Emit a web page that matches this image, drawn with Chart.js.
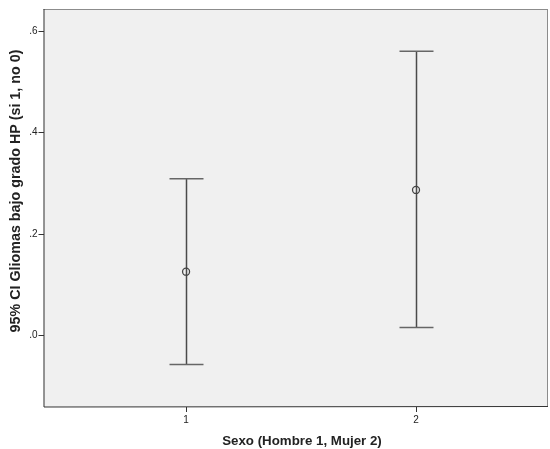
<!DOCTYPE html>
<html>
<head>
<meta charset="utf-8">
<script src="https://cdn.jsdelivr.net/npm/chart.js@4"></script>
<style>
  html, body { margin: 0; padding: 0; background: #fff; }
  #wrap { width: 550px; height: 449px; }
</style>
</head>
<body>
<div id="wrap"><canvas id="chart" width="550" height="449"></canvas></div>
<script>
// group codes on the x axis
const categories = [1, 2];
// means and 95% CI bounds
const means = [0.126, 0.287];
const lower = [-0.057, 0.016];
const upper = [0.309, 0.560];
const yTicks = [0, 0.2, 0.4, 0.6];
const xTicks = [1, 2];
const xTitle = 'Sexo (Hombre 1, Mujer 2)';
const yTitle = '95% CI Gliomas bajo grado HP (si 1, no 0)';

// fill the plot area and draw a frame
const plotBg = {
  id: 'plotBg',
  beforeDraw(chart) {
    const { ctx, chartArea: a } = chart;
    ctx.save();
    ctx.fillStyle = '#f0f0f0';
    ctx.fillRect(a.left, a.top, a.right - a.left, a.bottom - a.top);
    ctx.strokeStyle = '#8c8c8c';
    ctx.lineWidth = 1;
    ctx.beginPath();
    ctx.moveTo(a.left, a.top + 0.5);
    ctx.lineTo(a.right, a.top + 0.5);
    ctx.moveTo(a.right - 0.5, a.top);
    ctx.lineTo(a.right - 0.5, a.bottom);
    ctx.stroke();
    ctx.strokeStyle = '#333';
    ctx.beginPath();
    ctx.moveTo(a.left + 0.5, a.top);
    ctx.lineTo(a.left + 0.5, a.bottom);
    ctx.lineTo(a.right, a.bottom - 0.5);
    ctx.stroke();
    ctx.restore();
  }
};

// whiskers and caps through the scales
const errorBars = {
  id: 'errorBars',
  beforeDatasetsDraw(chart) {
    const { ctx, scales } = chart;
    const capHalf = 17;
    ctx.save();
    ctx.lineWidth = 1.5;
    categories.forEach((c, i) => {
      const x = Math.round(scales.x.getPixelForValue(c)) + 0.5;
      const yLo = scales.y.getPixelForValue(lower[i]);
      const yHi = scales.y.getPixelForValue(upper[i]);
      ctx.strokeStyle = '#4a4a4a';
      ctx.beginPath();
      ctx.moveTo(x, yHi);
      ctx.lineTo(x, yLo);
      ctx.stroke();
      ctx.strokeStyle = '#666';
      ctx.beginPath();
      ctx.moveTo(x - capHalf, yHi);
      ctx.lineTo(x + capHalf, yHi);
      ctx.moveTo(x - capHalf, yLo);
      ctx.lineTo(x + capHalf, yLo);
      ctx.stroke();
    });
    ctx.restore();
  }
};

// axis titles, placed like the original (slightly off the plot centre)
const titles = {
  id: 'titles',
  afterDraw(chart) {
    const { ctx } = chart;
    ctx.save();
    ctx.fillStyle = '#222';
    ctx.textAlign = 'center';
    ctx.textBaseline = 'middle';
    ctx.font = 'bold 13.3px "Liberation Sans", Arial';
    ctx.fillText(xTitle, 302, 441);
    ctx.translate(16, 191);
    ctx.rotate(-Math.PI / 2);
    ctx.font = 'bold 14.3px "Liberation Sans", Arial';
    ctx.fillText(yTitle, 0, 0);
    ctx.restore();
  }
};

const fmt = v => {
  const s = v.toFixed(1);
  return s.replace(/^0/, '').replace(/^-0/, '-');
};

new Chart(document.getElementById('chart'), {
  type: 'scatter',
  data: {
    datasets: [{
      data: categories.map((c, i) => ({ x: c, y: means[i] })),
      pointRadius: 3.5,
      pointBorderWidth: 1.3,
      pointBorderColor: '#444',
      pointBackgroundColor: 'rgba(0,0,0,0)'
    }]
  },
  options: {
    responsive: false,
    animation: false,
    layout: { autoPadding: false, padding: { top: 9, right: 2, left: 0, bottom: 0 } },
    plugins: {
      legend: { display: false },
      tooltip: { enabled: false }
    },
    scales: {
      x: {
        type: 'linear',
        min: 0.38,
        max: 2.574,
        afterBuildTicks: s => { s.ticks = xTicks.map(v => ({ value: v })); },
        afterFit: s => { s.height = 42; },
        border: { display: false },
        grid: { drawOnChartArea: false, tickLength: 5, color: '#333' },
        ticks: {
          color: '#222',
          padding: 2,
          font: { family: 'Liberation Sans, Arial', size: 10 },
          callback: v => String(v)
        }
      },
      y: {
        min: -0.1405,
        max: 0.6434,
        afterBuildTicks: s => { s.ticks = yTicks.map(v => ({ value: v })); },
        afterFit: s => { s.width = 43.5; },
        border: { display: false },
        grid: { drawOnChartArea: false, tickLength: 5, color: '#333' },
        ticks: {
          color: '#222',
          padding: 1,
          font: { family: 'Liberation Sans, Arial', size: 10 },
          callback: v => fmt(v)
        }
      }
    }
  },
  plugins: [plotBg, errorBars, titles]
});
</script>
</body>
</html>
